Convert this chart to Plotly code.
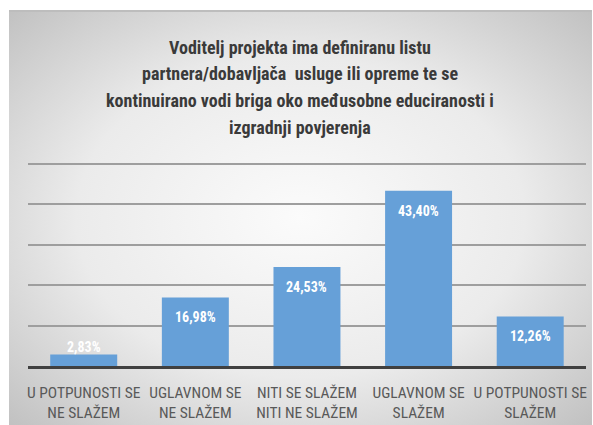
import base64
import plotly.graph_objects as go

# Survey answers and their shares (%)
categories = [
    "U POTPUNOSTI SE<br>NE SLAŽEM",
    "UGLAVNOM SE<br>NE SLAŽEM",
    "NITI SE SLAŽEM<br>NITI NE SLAŽEM",
    "UGLAVNOM SE<br>SLAŽEM",
    "U POTPUNOSTI SE<br>SLAŽEM",
]
shares = [2.83, 16.98, 24.53, 43.40, 12.26]
title_lines = [
    "Voditelj projekta ima definiranu listu",
    "partnera/dobavljača  usluge ili opreme te se",
    "kontinuirano vodi briga oko međusobne educiranosti i",
    "izgradnji povjerenja",
]

W, H = 593, 425
FONT = "Liberation Sans Narrow, Roboto Condensed, Arial Narrow, sans-serif"
BAR = "#66a0d8"
YMAX = 50.4

# Radial grey background of the chart box
svg = f"""<svg xmlns='http://www.w3.org/2000/svg' width='585' height='415'>
<defs><radialGradient id='g' cx='50%' cy='50%' r='70%'>
<stop offset='0%' stop-color='#fbfbfb'/><stop offset='55%' stop-color='#ebebeb'/>
<stop offset='100%' stop-color='#c2c2c2'/></radialGradient></defs>
<rect width='585' height='415' fill='url(#g)'/>
<rect width='585' height='2' fill='#bdbdbd'/>
</svg>"""
bg = "data:image/svg+xml;base64," + base64.b64encode(svg.encode()).decode()

fig = go.Figure(go.Bar(
    x=categories, y=shares, marker=dict(color=BAR, line=dict(width=0)),
    width=0.6, hoverinfo="skip",
))

def label(v):
    return f"{v:.2f}%".replace(".", ",")

annotations = []
for c, v in zip(categories, shares):
    inside = v > 6
    annotations.append(dict(
        x=c, y=v, xref="x", yref="y", text=f"<b>{label(v)}</b>",
        showarrow=False, yshift=-20 if inside else 8,
        font=dict(family=FONT, size=14, color="white"),
    ))

# Title, one line per annotation for wider line spacing
for i, line in enumerate(title_lines):
    annotations.append(dict(
        x=(8 + 593) / 2 / W, y=1 - (47 + 26.7 * i) / H, xref="paper", yref="paper",
        text=f"<b>{line}</b>", showarrow=False, xanchor="center", yanchor="middle",
        font=dict(family=FONT, size=18, color="#3a3a3a"),
    ))

# plot area: baseline at 366 px, 50 % line at 164 px
top_px = 366 - (366 - 164) * YMAX / 50

fig.update_layout(
    width=W, height=H, margin=dict(l=0, r=0, t=0, b=0),
    paper_bgcolor="white", plot_bgcolor="rgba(0,0,0,0)",
    showlegend=False, bargap=0.4,
    images=[dict(source=bg, xref="paper", yref="paper",
                 x=8 / W, y=1 - 10 / H, sizex=585 / W, sizey=415 / H,
                 xanchor="left", yanchor="top", sizing="stretch", layer="below")],
    xaxis=dict(domain=[27 / W, 587 / W], showline=True, linewidth=3,
               linecolor="#404040", ticks="", ticklabelstandoff=10,
               tickfont=dict(family=FONT, size=15.5, color="#595959"),
               fixedrange=True),
    yaxis=dict(domain=[(H - 366) / H, (H - top_px) / H], range=[0, YMAX], dtick=10,
               showgrid=True, gridcolor="#9e9e9e", gridwidth=1.5,
               zeroline=False, showticklabels=False, fixedrange=True),
    annotations=annotations,
)

fig.write_html("out.html")
